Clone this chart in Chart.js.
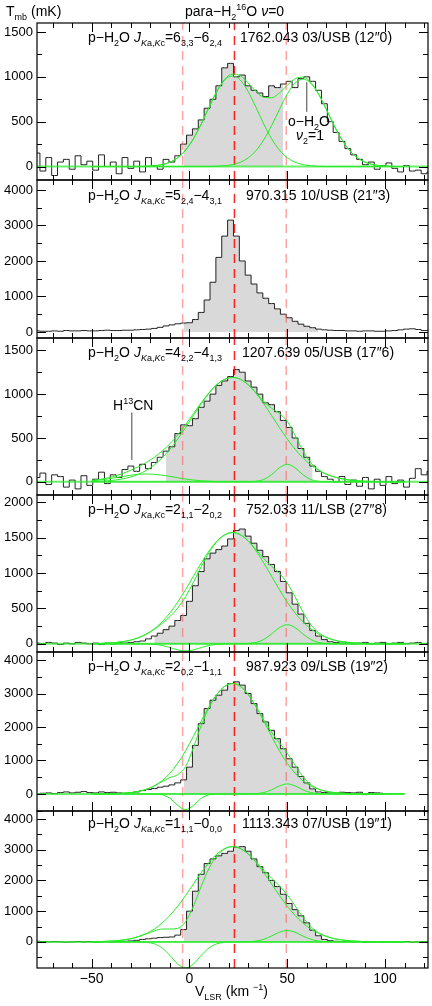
<!DOCTYPE html>
<html>
<head>
<meta charset="utf-8">
<script src="https://cdn.jsdelivr.net/npm/chart.js@4.4.1/dist/chart.umd.min.js"></script>
<style>
  body { margin: 0; background: #fff; width: 432px; height: 1006px; position: relative; overflow: hidden;
         font-family: "Liberation Sans", Arial, sans-serif; color: #000; }
  .box { position: absolute; left: 0; width: 432px; }
  .lbl { position: absolute; font-size: 14px; white-space: nowrap; line-height: 14px; z-index: 5; }
  sub, sup { font-size: 9px; line-height: 0; }
  i { font-style: italic; }
</style>
</head>
<body>

<div class="lbl" style="left:6px;top:4px">T<sub>mb</sub> (mK)</div>
<div class="lbl" style="left:185px;top:4px">para−H<sub>2</sub><sup>16</sup>O <i>ν</i>=0</div>

<div class="lbl" style="left:88px;top:30px">p−H<sub>2</sub>O <i>J</i><sub><i>K</i>a,<i>K</i>c</sub>=6<sub>3,3</sub>−6<sub>2,4</sub></div>
<div class="lbl" style="left:240px;top:30px">1762.043 03/USB (12″0)</div>
<div class="lbl" style="left:288px;top:114px">o−H<sub>2</sub>O</div>
<div class="lbl" style="left:296px;top:128px"><i>ν</i><sub>2</sub>=1</div>

<div class="lbl" style="left:88px;top:188px">p−H<sub>2</sub>O <i>J</i><sub><i>K</i>a,<i>K</i>c</sub>=5<sub>2,4</sub>−4<sub>3,1</sub></div>
<div class="lbl" style="left:246px;top:188px">970.315 10/USB (21″3)</div>

<div class="lbl" style="left:88px;top:345px">p−H<sub>2</sub>O <i>J</i><sub><i>K</i>a,<i>K</i>c</sub>=4<sub>2,2</sub>−4<sub>1,3</sub></div>
<div class="lbl" style="left:242px;top:345px">1207.639 05/USB (17″6)</div>
<div class="lbl" style="left:113px;top:398px">H<sup>13</sup>CN</div>

<div class="lbl" style="left:88px;top:502px">p−H<sub>2</sub>O <i>J</i><sub><i>K</i>a,<i>K</i>c</sub>=2<sub>1,1</sub>−2<sub>0,2</sub></div>
<div class="lbl" style="left:246px;top:502px">752.033 11/LSB (27″8)</div>

<div class="lbl" style="left:88px;top:659px">p−H<sub>2</sub>O <i>J</i><sub><i>K</i>a,<i>K</i>c</sub>=2<sub>0,2</sub>−1<sub>1,1</sub></div>
<div class="lbl" style="left:246px;top:659px">987.923 09/LSB (19″2)</div>

<div class="lbl" style="left:88px;top:816px">p−H<sub>2</sub>O <i>J</i><sub><i>K</i>a,<i>K</i>c</sub>=1<sub>1,1</sub>−0<sub>0,0</sub></div>
<div class="lbl" style="left:242px;top:816px">1113.343 07/USB (19″1)</div>

<div class="lbl" style="left:195px;top:984px">V<sub>LSR</sub> (km <sup>−1</sup>)</div>

<script>
// velocity axis of the spectra and of the fitted components (km/s)
const specV = [-78,-75,-72,-69,-66,-63,-60,-57,-54,-51,-48,-45,-42,-39,-36,-33,-30,-27,-24,-21,-18,-15,-12,-9,-6,-3,
  0,3,6,9,12,15,18,21,24,27,30,33,36,39,42,45,48,51,54,57,60,63,66,69,72,75,78,81,84,87,90,93,96,99,102,105,108,111,114,117,120,123];
const fitV = [-50,-46,-42,-38,-34,-30,-26,-22,-18,-14,-10,-6,-2,2,6,10,14,18,22,26,30,34,38,42,46,50,54,58,62,66,70,74,78,82,86,90,94,98,102,106,110];
const refV = [-3.5, 23, 49.5];
const xTicks = [-50, 0, 50, 100];

// 6_33-6_24
const spec1 = [150,-50,100,-100,50,80,-30,120,20,60,-40,130,0,50,-80,100,-20,60,-60,100,10,-30,80,50,120,250,
  350,420,520,650,750,900,1100,1150,1000,1020,900,850,820,780,900,880,920,950,880,980,1000,950,850,700,500,380,280,200,130,80,20,50,-30,10,40,-20,-60,10,-50,-40,-80,-60];
const fit1a = [0,0,0,0,0,0,0,3,9,22,48,99,184,309,474,660,836,964,1010,964,836,660,474,309,184,99,48,22,9,3,0,0,0,0,0,0,0,0,0,0,0];
const fit1b = [0,0,0,0,0,0,0,0,0,0,0,0,0,0,0,0,3,9,21,47,96,177,298,457,637,807,930,975,930,807,637,457,298,177,96,47,21,9,3,0,0];
const fit1sum = [0,0,0,0,0,0,0,3,9,22,48,99,184,309,474,660,839,973,1031,1011,932,837,772,766,821,906,978,997,939,810,637,457,298,177,96,47,21,9,3,0,0];

// 5_24-4_31
const spec2 = [30,20,20,30,20,40,30,30,40,30,30,40,50,40,40,50,50,60,70,80,100,130,170,200,230,250,
  260,350,550,900,1400,2100,2700,3150,2700,2000,1600,1350,1100,950,800,650,500,400,300,220,160,120,80,60,50,40,40,30,30,20,30,30,20,20,30,40,60,80,90,70,40,50];

// 4_22-4_13
const spec3 = [50,100,-30,80,60,-60,20,-80,70,-40,30,110,-20,80,50,140,180,120,200,150,220,280,350,400,550,650,
  640,720,850,920,1000,1100,1150,1200,1280,1250,1150,1080,1000,900,880,800,700,620,500,380,280,180,120,60,30,0,60,-30,20,-50,50,-80,30,-40,60,-20,20,-60,40,150,80,120];
const fit3a = [4,6,12,20,35,56,87,132,194,274,372,489,620,756,890,1010,1107,1169,1190,1169,1107,1010,890,756,620,489,372,274,194,132,87,56,35,20,12,6,4,2,1,0,0];
const fit3b = [0,0,0,0,0,0,0,0,0,0,0,0,0,0,0,0,0,0,0,0,0,6,27,82,160,200,160,82,27,6,0,0,0,0,0,0,0,0,0,0,0];
const fit3c = [12,21,32,47,62,76,86,90,86,76,62,47,32,21,12,7,3,0,0,0,0,0,0,0,0,0,0,0,0,0,0,0,0,0,0,0,0,0,0,0,0];
const fit3sum = [16,27,44,67,97,132,173,222,280,350,434,536,652,777,902,1017,1110,1169,1190,1169,1107,1016,917,838,780,689,532,356,221,138,87,56,35,20,12,6,4,2,1,0,0];

// 2_11-2_02
const spec4 = [10,0,20,10,-10,10,0,20,10,0,10,-10,10,0,20,10,20,30,40,70,110,150,200,250,330,400,
  600,820,1020,1200,1280,1330,1380,1480,1600,1620,1520,1420,1320,1230,1120,1020,880,720,560,420,290,190,110,60,30,20,10,20,0,10,20,0,10,20,0,10,20,0,10,20,0,10];
const fit4a = [2,5,9,17,31,53,88,140,212,311,436,589,765,953,1140,1311,1449,1539,1570,1539,1449,1311,1140,953,765,589,436,311,212,140,88,53,31,17,9,5,2,1,0,0,0];
const fit4b = [0,0,0,0,0,0,0,0,0,0,0,0,0,0,0,0,0,0,0,0,5,20,62,140,229,270,229,140,62,20,5,0,0,0,0,0,0,0,0,0,0];
const fit4c = [0,0,0,0,0,0,0,-2,-7,-23,-52,-85,-100,-85,-52,-23,-7,-2,0,0,0,0,0,0,0,0,0,0,0,0,0,0,0,0,0,0,0,0,0,0,0];
const fit4sum = [2,5,9,17,31,53,88,138,205,288,384,504,665,868,1088,1288,1442,1537,1570,1539,1454,1331,1202,1093,994,859,665,451,274,160,93,53,31,17,9,5,2,1,0,0,0];

// 2_02-1_11
const spec5 = [0,20,30,10,40,60,30,50,70,40,30,60,40,50,30,20,40,60,100,130,160,200,230,270,330,420,
  800,1450,2100,2550,2800,2950,3100,3300,3350,3250,3000,2700,2400,2150,1900,1650,1350,1050,800,520,330,150,60,40,30,20,50,40,30,50,-20,40,30,20,null,null,null,null,null,null,null,null];
const fit5a = [1,2,5,10,20,40,76,139,241,396,620,917,1287,1719,2175,2607,2973,3214,3300,3214,2973,2607,2175,1719,1287,917,620,396,241,139,76,40,20,10,5,2,1,0,0,0,0];
const fit5b = [0,0,0,0,0,0,0,0,0,0,0,0,0,0,0,0,0,0,0,0,0,9,41,123,240,300,240,123,41,9,0,0,0,0,0,0,0,0,0,0,0];
const fit5c = [0,0,0,0,0,0,0,0,-3,-26,-131,-341,-470,-341,-131,-26,-3,0,0,0,0,0,0,0,0,0,0,0,0,0,0,0,0,0,0,0,0,0,0,0,0];
const fit5sum = [1,2,5,10,20,40,76,139,238,370,489,576,817,1378,2044,2581,2970,3214,3300,3214,2973,2616,2216,1842,1527,1217,860,519,282,148,76,40,20,10,5,2,1,0,0,0,0];

// 1_11-0_00
const spec6 = [20,10,0,10,0,-10,0,10,0,10,-10,0,10,0,10,20,30,50,80,100,120,140,150,160,220,400,
  1000,1650,2200,2550,2700,2800,2880,2950,3080,3100,2950,2700,2450,2250,2000,1800,1550,1250,1050,850,620,380,200,80,40,20,10,20,0,10,-10,0,10,0,10,-10,0,10,-10,0,10,0];
const fit6a = [5,10,19,34,62,105,174,276,419,614,862,1163,1510,1882,2251,2589,2861,3038,3100,3038,2861,2589,2251,1882,1510,1163,862,614,419,276,174,105,62,34,19,10,5,2,0,0,0];
const fit6b = [0,0,0,0,0,0,0,0,0,0,0,0,0,0,0,0,0,0,0,0,6,27,85,192,314,370,314,192,85,27,6,0,0,0,0,0,0,0,0,0,0];
const fit6c = [0,0,0,0,0,0,0,-14,-62,-196,-442,-722,-850,-722,-442,-196,-62,-14,0,0,0,0,0,0,0,0,0,0,0,0,0,0,0,0,0,0,0,0,0,0,0];
const fit6sum = [5,10,19,34,62,105,174,262,357,418,420,441,660,1160,1809,2393,2799,3024,3100,3038,2867,2616,2336,2074,1824,1533,1176,806,504,303,180,105,62,34,19,10,5,2,0,0,0];

const panels = [
  { top: 23,  bottom: 180, yMin: -150, yMax: 1600, yTicks: [0, 500, 1000, 1500], step: 500,  spec: spec1, fits: [fit1a, fit1b], sum: fit1sum, fill: [-3.5, 49.5], baseEnd: 122, mark: { v: 60, y0: 610, y1: 940 } },
  { top: 180, bottom: 338, yMin: -170, yMax: 4280, yTicks: [0, 1000, 2000, 3000, 4000], step: 1000, spec: spec2, fits: [], sum: null, fill: [-3.5, 68], baseEnd: null },
  { top: 338, bottom: 495, yMin: -150, yMax: 1640, yTicks: [0, 500, 1000, 1500], step: 500,  spec: spec3, fits: [fit3a, fit3b, fit3c], sum: fit3sum, fill: [-14, 64], baseEnd: 122, mark: { v: -29.5, y0: 250, y1: 790 } },
  { top: 495, bottom: 652, yMin: -115, yMax: 2100, yTicks: [0, 500, 1000, 1500, 2000], step: 500,  spec: spec4, fits: [fit4a, fit4b, fit4c], sum: fit4sum, fill: [-18, 73], baseEnd: 122 },
  { top: 652, bottom: 811, yMin: -510, yMax: 4240, yTicks: [0, 1000, 2000, 3000, 4000], step: 1000, spec: spec5, fits: [fit5a, fit5b, fit5c], sum: fit5sum, fill: [-3.5, 67], baseEnd: 100 },
  { top: 811, bottom: 968, yMin: -850, yMax: 4260, yTicks: [0, 1000, 2000, 3000, 4000], step: 1000, spec: spec6, fits: [fit6a, fit6b, fit6c], sum: fit6sum, fill: [-3.5, 72], baseEnd: 122 }
];

const X_MIN = -78, X_MAX = 122;
const GREEN = 'rgb(40,235,40)';

const boxTicks = {
  id: 'boxTicks',
  afterDraw(chart, args, opts) {
    const { ctx, chartArea: a, scales: { x, y } } = chart;
    ctx.save();
    ctx.strokeStyle = '#000';
    ctx.lineWidth = 1;
    ctx.beginPath();
    for (let v = -70; v <= X_MAX; v += 10) {
      const px = Math.round(x.getPixelForValue(v)) + 0.5;
      const len = v % 50 === 0 ? 9 : 5;
      ctx.moveTo(px, a.bottom); ctx.lineTo(px, a.bottom - len);
      ctx.moveTo(px, a.top); ctx.lineTo(px, a.top + len);
    }
    const half = opts.step / 2;
    for (let v = Math.ceil(opts.yMin / half) * half; v <= opts.yMax; v += half) {
      const py = Math.round(y.getPixelForValue(v)) + 0.5;
      const len = v % opts.step === 0 ? 9 : 5;
      ctx.moveTo(a.left, py); ctx.lineTo(a.left + len, py);
      ctx.moveTo(a.right, py); ctx.lineTo(a.right - len, py);
    }
    ctx.stroke();
    ctx.lineWidth = 1.2;
    ctx.strokeRect(a.left, a.top, a.right - a.left, a.bottom - a.top);
    ctx.restore();
  }
};

function makePanel(p, idx) {
  const last = idx === panels.length - 1;
  const div = document.createElement('div');
  div.className = 'box';
  const pad = 12;
  const axisH = last ? 1006 - p.bottom : pad;
  const plotH = p.bottom - p.top;
  div.style.top = (p.top - pad) + 'px';
  div.style.height = (plotH + pad + axisH) + 'px';
  const canvas = document.createElement('canvas');
  div.appendChild(canvas);
  document.body.appendChild(div);

  const specPts = specV.map((v, i) => ({ x: v, y: p.spec[i] }));
  const fillPts = specV.map((v, i) => ({ x: v, y: (v >= p.fill[0] && v <= p.fill[1]) ? p.spec[i] : null }));

  const datasets = [
    { data: fillPts, stepped: 'middle', borderWidth: 0, pointRadius: 0, fill: 'origin',
      backgroundColor: '#d9d9d9', spanGaps: false, order: 10 },
    { data: specPts, stepped: 'middle', borderColor: '#222', borderWidth: 1, pointRadius: 0, fill: false, order: 4 }
  ];
  refV.forEach((v, k) => {
    datasets.push({ data: [{ x: v, y: p.yMin }, { x: v, y: p.yMax }], borderColor: k === 1 ? 'rgba(255,0,0,0.85)' : 'rgba(255,90,90,0.55)',
      borderWidth: 1.5, borderDash: [9, 6], pointRadius: 0, fill: false, order: 3 });
  });
  if (p.baseEnd !== null) {
    datasets.push({ data: [{ x: X_MIN, y: 0 }, { x: p.baseEnd, y: 0 }], borderColor: 'rgba(40,235,40,0.7)',
      borderWidth: 2, pointRadius: 0, fill: false, order: 2 });
  }
  p.fits.concat(p.sum ? [p.sum] : []).forEach(f => {
    datasets.push({ data: fitV.map((v, i) => ({ x: v, y: f[i] })), borderColor: GREEN, borderWidth: 1,
      pointRadius: 0, fill: false, cubicInterpolationMode: 'monotone', order: 1 });
  });
  if (p.mark) {
    datasets.push({ data: [{ x: p.mark.v, y: p.mark.y0 }, { x: p.mark.v, y: p.mark.y1 }], borderColor: '#444',
      borderWidth: 1, pointRadius: 0, fill: false, order: 0 });
  }

  const chart = new Chart(canvas, {
    type: 'line',
    data: { datasets },
    plugins: [boxTicks],
    options: {
      responsive: true,
      maintainAspectRatio: false,
      animation: false,
      layout: { padding: { top: pad, bottom: last ? 0 : pad, left: 0, right: 4 } },
      plugins: {
        legend: { display: false },
        tooltip: { enabled: false },
        boxTicks: { step: p.step, yMin: p.yMin, yMax: p.yMax }
      },
      scales: {
        x: {
          type: 'linear', min: X_MIN, max: X_MAX,
          display: last,
          grid: { display: false, drawTicks: false },
          border: { display: false },
          afterBuildTicks: s => { s.ticks = xTicks.map(v => ({ value: v })); },
          afterFit: s => { s.height = axisH; },
          ticks: { color: '#000', padding: 3, font: { family: 'Liberation Sans', size: 14 },
            callback: v => String(v).replace('-', '−') }
        },
        y: {
          min: p.yMin, max: p.yMax,
          grid: { display: false, drawTicks: false },
          border: { display: false },
          afterBuildTicks: s => { s.ticks = p.yTicks.map(v => ({ value: v })); },
          afterFit: s => { s.width = 37; },
          ticks: { color: '#000', padding: 4, font: { family: 'Liberation Sans', size: 13 },
            callback: v => String(v) }
        }
      }
    }
  });

  // line up the plot frame with the panel edges, whatever padding the layout added
  const a = chart.chartArea;
  const h = canvas.clientHeight;
  const below = h - a.bottom;
  div.style.top = (p.top - a.top) + 'px';
  div.style.height = (a.top + plotH + below) + 'px';
  chart.resize();
}

panels.forEach(makePanel);
</script>
</body>
</html>
